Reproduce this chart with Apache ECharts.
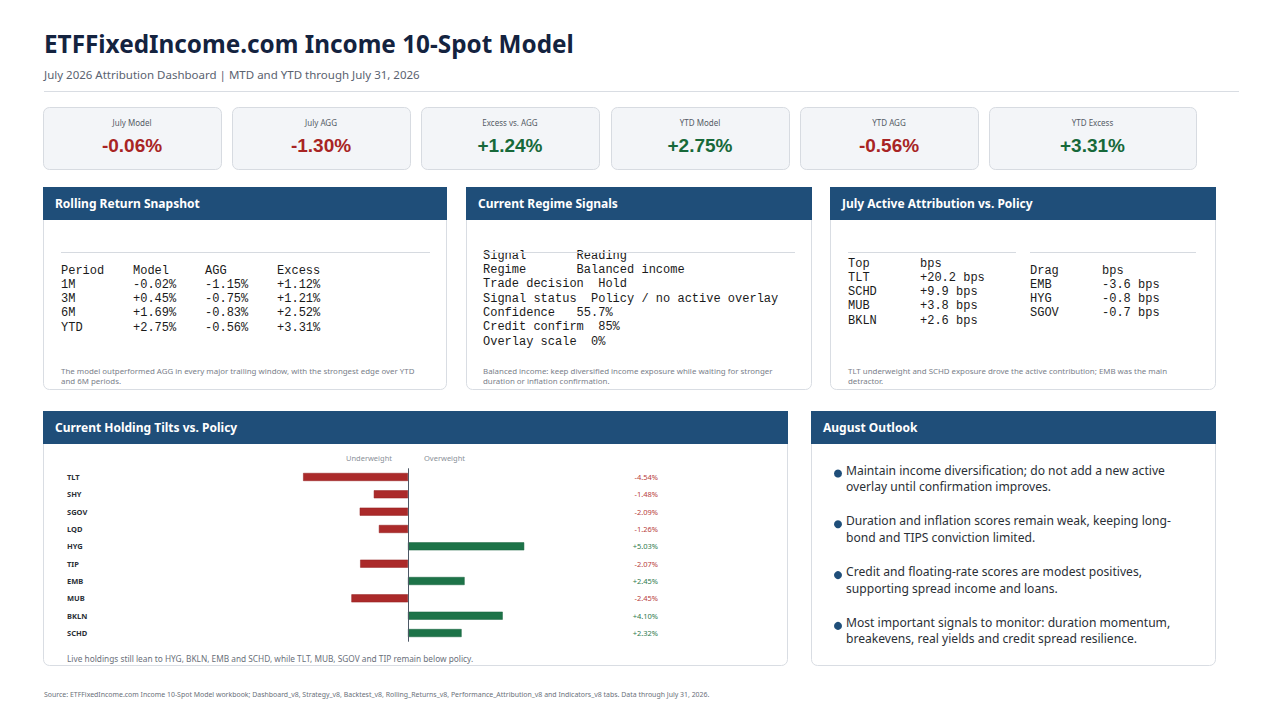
<!DOCTYPE html>
<html>
<head>
<meta charset="utf-8">
<title>ETFFixedIncome.com Income 10-Spot Model</title>
<script src="https://cdn.jsdelivr.net/npm/echarts@6/dist/echarts.min.js"></script>
<style>
  html, body { margin: 0; padding: 0; background: #ffffff; }
  #main { width: 1280px; height: 720px; }
</style>
</head>
<body>
<div id="main"></div>
<script>
// ---- data ----
var kpiLabels = ['July Model', 'July AGG', 'Excess vs. AGG', 'YTD Model', 'YTD AGG', 'YTD Excess'];
var kpiValues = [-0.06, -1.30, 1.24, 2.75, -0.56, 3.31];

var periods = ['1M', '3M', '6M', 'YTD'];
var modelRet = [-0.02, 0.45, 1.69, 2.75];
var aggRet = [-1.15, -0.75, -0.83, -0.56];
var excessRet = [1.12, 1.21, 2.52, 3.31];

var signalNames = ['Signal', 'Regime', 'Trade decision', 'Signal status', 'Confidence', 'Credit confirm', 'Overlay scale'];
var signalReadings = ['Reading', 'Balanced income', 'Hold', 'Policy / no active overlay', '55.7%', '85%', '0%'];

var topNames = ['TLT', 'SCHD', 'MUB', 'BKLN'];
var topBps = [20.2, 9.9, 3.8, 2.6];
var dragNames = ['EMB', 'HYG', 'SGOV'];
var dragBps = [-3.6, -0.8, -0.7];

var holdings = ['TLT', 'SHY', 'SGOV', 'LQD', 'HYG', 'TIP', 'EMB', 'MUB', 'BKLN', 'SCHD'];
var tilts = [-4.54, -1.48, -2.09, -1.26, 5.03, -2.07, 2.45, -2.45, 4.10, 2.32];

var outlook = [
  'Maintain income diversification; do not add a new active\noverlay until confirmation improves.',
  'Duration and inflation scores remain weak, keeping long-\nbond and TIPS conviction limited.',
  'Credit and floating-rate scores are modest positives,\nsupporting spread income and loans.',
  'Most important signals to monitor: duration momentum,\nbreakevens, real yields and credit spread resilience.'
];

var notes = {
  rolling: 'The model outperformed AGG in every major trailing window, with the strongest edge over YTD\nand 6M periods.',
  regime: 'Balanced income: keep diversified income exposure while waiting for stronger\nduration or inflation confirmation.',
  attrib: 'TLT underweight and SCHD exposure drove the active contribution; EMB was the main\ndetractor.',
  tilts: 'Live holdings still lean to HYG, BKLN, EMB and SCHD, while TLT, MUB, SGOV and TIP remain below policy.',
  source: 'Source: ETFFixedIncome.com Income 10-Spot Model workbook; Dashboard_v8, Strategy_v8, Backtest_v8, Rolling_Returns_v8, Performance_Attribution_v8 and Indicators_v8 tabs. Data through July 31, 2026.'
};

// ---- styles ----
var NAVY = '#1f4e79';
var RED = '#a82424';
var GREEN = '#17693a';
var SANS = '"Noto Sans", "Liberation Sans", sans-serif';
var ARIAL = '"Liberation Sans", Arial, sans-serif';
var MONO = '"Liberation Mono", "DejaVu Sans Mono", monospace';

function pct(v) { return (v >= 0 ? '+' : '') + v.toFixed(2) + '%'; }
function bps(v) { return (v >= 0 ? '+' : '') + v.toFixed(1) + ' bps'; }
function pad(s, n) { return (s + '          ').slice(0, Math.max(n, s.length)); }

function txt(x, y, s, st) {
  return {
    type: 'text', x: x, y: y, silent: true,
    style: Object.assign({
      text: s, fill: '#222', font: '12px ' + SANS,
      textAlign: 'left', textVerticalAlign: 'middle'
    }, st || {})
  };
}
function box(x, y, w, h, fill, stroke, r) {
  return {
    type: 'rect', silent: true,
    shape: { x: x, y: y, width: w, height: h, r: r || 0 },
    style: { fill: fill, stroke: stroke || null, lineWidth: 1 }
  };
}
function hline(x1, x2, y, color) {
  return {
    type: 'line', silent: true,
    shape: { x1: x1, y1: y, x2: x2, y2: y },
    style: { stroke: color || '#d6dae0', lineWidth: 1 }
  };
}
function panel(x, y, w, h, title) {
  return [
    box(x + 0.5, y + 0.5, w, h, '#ffffff', '#d9dde3', [0, 0, 6, 6]),
    box(x, y, w + 1, 33, NAVY, null, 0),
    txt(x + 12, y + 16, title, { fill: '#ffffff', font: 'bold 12px ' + SANS })
  ];
}

var g = [];

// header
g.push(txt(44, 43, 'ETFFixedIncome.com Income 10-Spot Model', { fill: '#14233f', font: 'bold 24.3px ' + SANS }));
g.push(txt(44, 74, 'July 2026 Attribution Dashboard | MTD and YTD through July 31, 2026', { fill: '#5a6270', font: '11.5px ' + SANS }));
g.push(hline(44, 1239, 91.5, '#d9dde3'));

// KPI cards
var cardX = [43, 232, 421, 611, 800, 989];
var cardW = [178, 178, 178, 178, 178, 207];
kpiLabels.forEach(function (lab, i) {
  var cx = cardX[i] + cardW[i] / 2;
  g.push(box(cardX[i] + 0.5, 107.5, cardW[i], 62, '#f3f5f8', '#d7dbe1', 6));
  g.push(txt(cx, 122, lab, { fill: '#555c66', font: '8px ' + SANS, textAlign: 'center' }));
  g.push(txt(cx, 145, pct(kpiValues[i]), { fill: kpiValues[i] >= 0 ? GREEN : RED, font: 'bold 19px ' + ARIAL, textAlign: 'center' }));
});

// panels
g = g.concat(panel(43, 187, 403, 202, 'Rolling Return Snapshot'));
g = g.concat(panel(466, 187, 345, 202, 'Current Regime Signals'));
g = g.concat(panel(830, 187, 385, 202, 'July Active Attribution vs. Policy'));
g = g.concat(panel(43, 411, 744, 254, 'Current Holding Tilts vs. Policy'));
g = g.concat(panel(811, 411, 404, 254, 'August Outlook'));

var monoSt = { fill: '#1a1a1a', font: '12px ' + MONO };
var noteSt = { fill: '#7a808a', font: '7.9px ' + SANS, lineHeight: 10, textVerticalAlign: 'top' };

// rolling returns table
g.push(hline(61, 430, 252.5));
g.push(txt(61, 270.5, pad('Period', 10) + pad('Model', 10) + pad('AGG', 10) + 'Excess', monoSt));
periods.forEach(function (p, i) {
  g.push(txt(61, 284.8 + i * 14.3, pad(p, 10) + pad(pct(modelRet[i]), 10) + pad(pct(aggRet[i]), 10) + pct(excessRet[i]), monoSt));
});
g.push(txt(61, 366, notes.rolling, noteSt));

// regime signals
g.push(txt(483, 255.5, pad(signalNames[0], 13) + signalReadings[0], monoSt));
g.push(hline(483, 795, 252.5));
signalNames.slice(1).forEach(function (n, i) {
  g.push(txt(483, 269.8 + i * 14.35, pad(n, Math.max(13, n.length + 2)) + signalReadings[i + 1], monoSt));
});
g.push(txt(483, 366, notes.regime, noteSt));

// attribution
g.push(hline(848, 1016, 252.5));
g.push(hline(1030, 1196, 252.5));
g.push(txt(848, 263.5, pad('Top', 10) + 'bps', monoSt));
topNames.forEach(function (n, i) {
  g.push(txt(848, 277.8 + i * 14.3, pad(n, 10) + bps(topBps[i]), monoSt));
});
g.push(txt(1030, 270.5, pad('Drag', 10) + 'bps', monoSt));
dragNames.forEach(function (n, i) {
  g.push(txt(1030, 284.8 + i * 14.3, pad(n, 10) + bps(dragBps[i]), monoSt));
});
g.push(txt(848, 366, notes.attrib, noteSt));

// tilts panel labels
g.push(txt(392, 458, 'Underweight', { fill: '#8a9099', font: '7.5px ' + SANS, textAlign: 'right' }));
g.push(txt(424, 458, 'Overweight', { fill: '#8a9099', font: '7.5px ' + SANS }));
g.push(txt(67, 658, notes.tilts, { fill: '#6a707a', font: '8.3px ' + SANS }));

// outlook bullets
outlook.forEach(function (s, i) {
  var y = 470 + i * 50.8;
  g.push({ type: 'circle', silent: true, shape: { cx: 838, cy: y + 3.5, r: 4 }, style: { fill: NAVY } });
  g.push(txt(846, y - 8, s, { fill: '#2a2f36', font: '12.1px ' + SANS, lineHeight: 16.3, textVerticalAlign: 'top' }));
});

// source
g.push(txt(44, 694, notes.source, { fill: '#6a707a', font: '6.95px ' + SANS }));

// ---- chart ----
var scale = 23.1;
var xMin = -5, xMax = 11;

var chart = echarts.init(document.getElementById('main'), null, { renderer: 'svg' });
chart.setOption({
  animation: false,
  backgroundColor: '#ffffff',
  graphic: { elements: g },
  grid: {
    left: 408 - (-xMin) * scale,
    top: 468.3,
    width: (xMax - xMin) * scale,
    height: 173.4,
    containLabel: false
  },
  xAxis: {
    type: 'value', min: xMin, max: xMax, show: false
  },
  yAxis: [{
    type: 'category', data: holdings, inverse: true,
    axisLine: { show: false }, axisTick: { show: false },
    axisLabel: {
      align: 'left', margin: 408 - (-xMin) * scale - 67,
      color: '#2a2f36', fontSize: 7.5, fontWeight: 'bold', fontFamily: SANS
    }
  }, {
    type: 'category', data: holdings, inverse: true, position: 'right', offset: -4,
    axisLine: { show: false }, axisTick: { show: false },
    axisLabel: {
      align: 'right', margin: 0, fontSize: 7.5, fontFamily: SANS,
      formatter: function (v, i) {
        return tilts[i] >= 0 ? '{p|' + pct(tilts[i]) + '}' : '{n|' + pct(tilts[i]) + '}';
      },
      rich: {
        p: { color: '#2f7a4e', fontSize: 7.5, fontFamily: SANS },
        n: { color: '#b83c3c', fontSize: 7.5, fontFamily: SANS }
      }
    }
  }],
  series: [{
    type: 'bar',
    yAxisIndex: 0,
    barWidth: 8,
    data: tilts.map(function (v) {
      return {
        value: v,
        itemStyle: { color: v >= 0 ? '#1d7348' : '#ab2a2a', borderColor: v >= 0 ? '#16623c' : '#931f1f', borderWidth: 0.5 }
      };
    }),
    markLine: {
      silent: true, symbol: 'none',
      label: { show: false },
      lineStyle: { color: '#4d5866', width: 1, type: 'solid' },
      data: [{ xAxis: 0 }]
    }
  }]
});
</script>
</body>
</html>
